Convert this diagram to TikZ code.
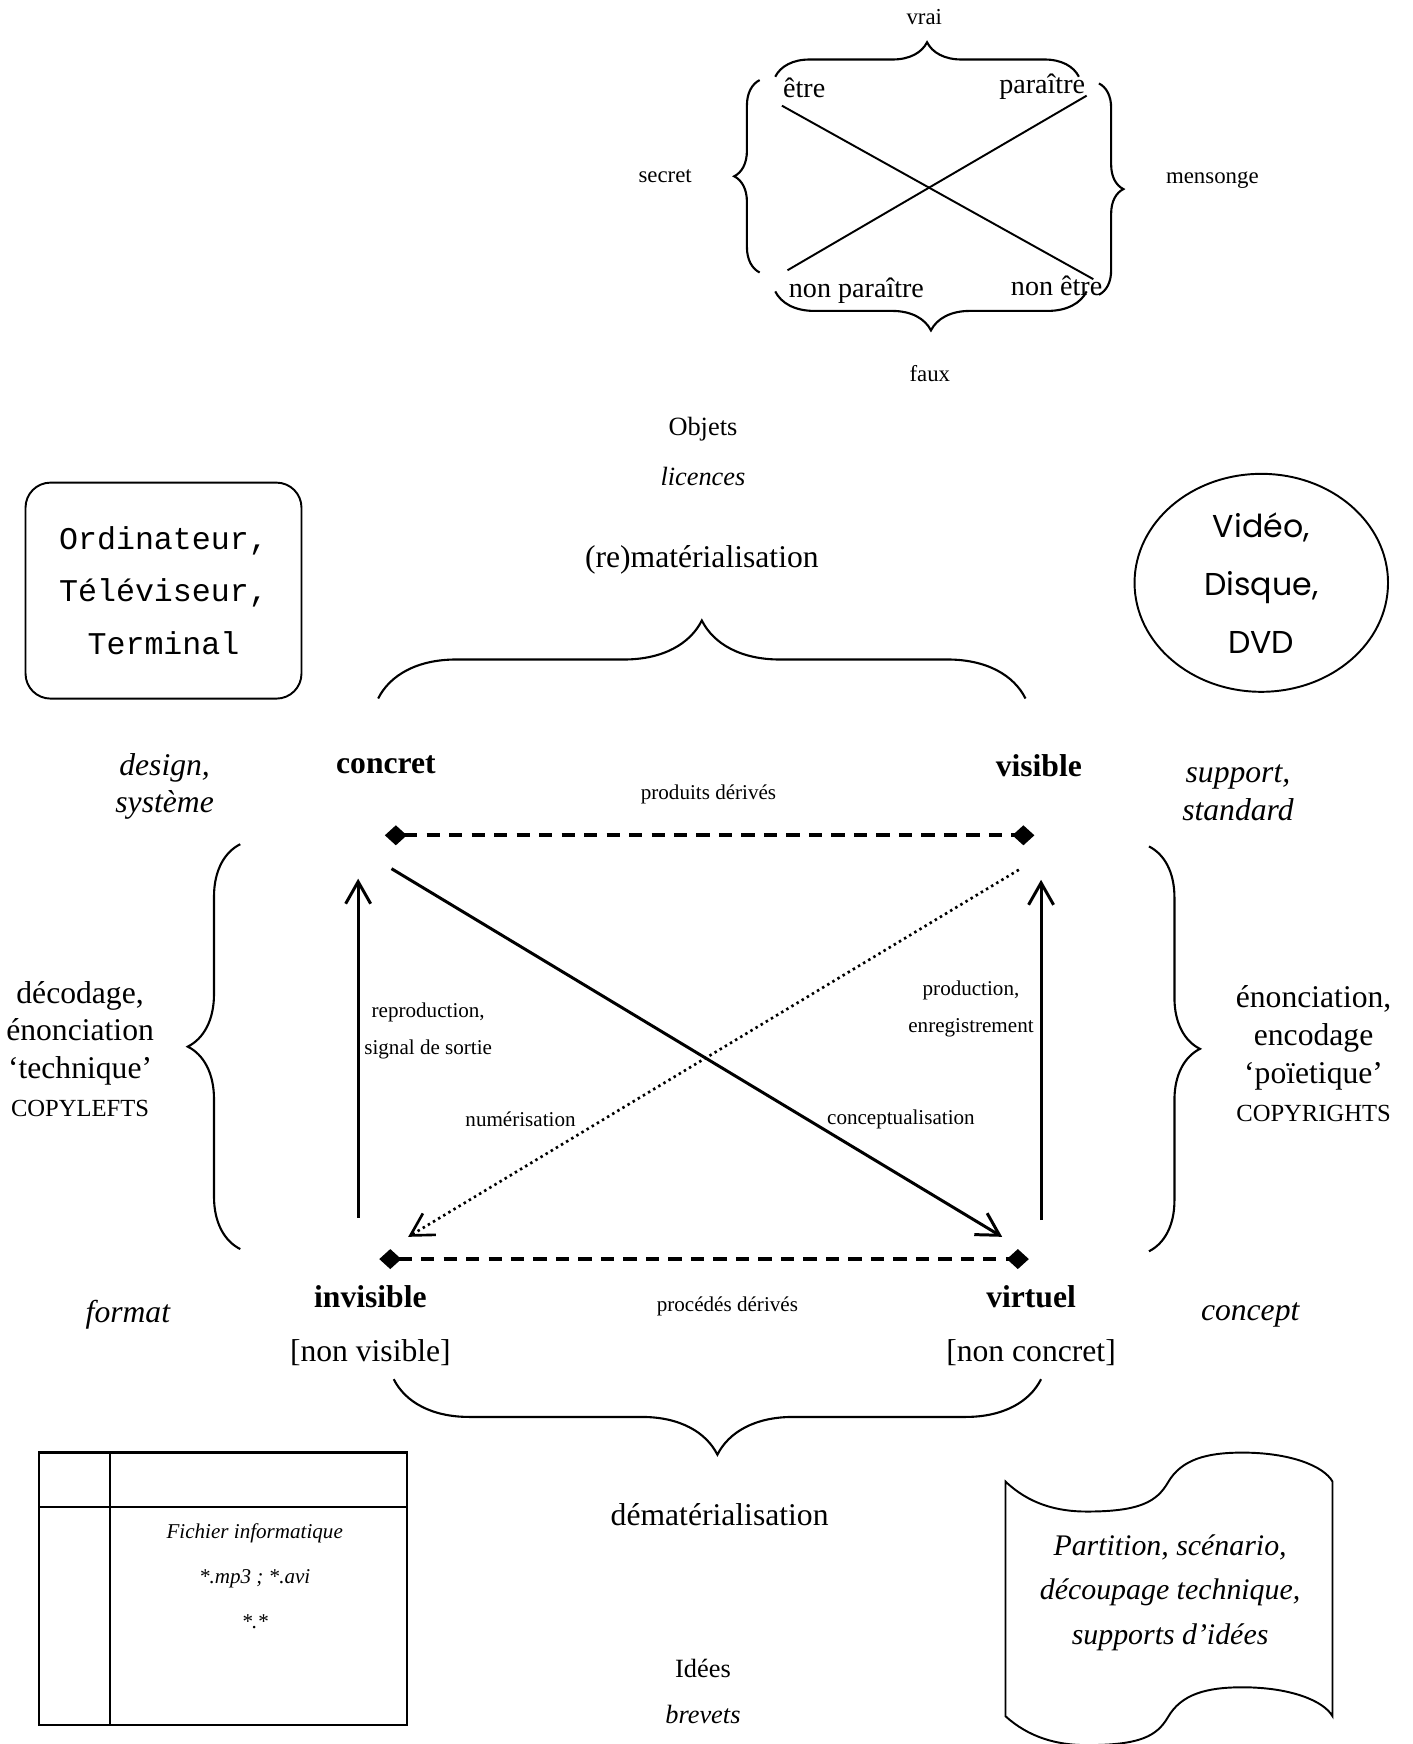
\documentclass[tikz,border=0pt]{standalone}
\usepackage{fontspec}
\setmainfont{Liberation Serif}
\setmonofont{Liberation Mono}
\newfontfamily\gothic{Poppins}
\usetikzlibrary{arrows.meta,decorations.pathreplacing,shapes.geometric}
\pgfdeclarelayer{bg}
\pgfsetlayers{bg,main}
\tikzset{
    every node/.style={inner sep=0mm, align=center},
    big/.style={font=\fontsize{18}{21.5}\selectfont},
    mid/.style={font=\fontsize{15}{18}\selectfont},
    petit/.style={font=\fontsize{12}{20.8}\selectfont},
    caps/.style={font=\fontsize{14}{16}\selectfont},
    carre/.style={font=\fontsize{16}{18}\selectfont},
    carrelbl/.style={font=\fontsize{13}{15}\selectfont},
    accolade/.style={decorate, decoration={brace, amplitude=#1}, line width=1.2pt},
    fleche/.style={line width=1.7pt, -{Straight Barb[length=0.44cm, width=0.5cm]}},
    tirets/.style={line width=2.1pt, dash pattern=on 7.5pt off 5.3pt,
        {Diamond[length=0.44cm, width=0.4cm]}-{Diamond[length=0.44cm, width=0.4cm]}},
    pointilles/.style={line width=1.5pt, dash pattern=on 1.4pt off 2pt,
        -{Straight Barb[length=0.44cm, width=0.5cm]}}
}

\begin{document}
\begin{tikzpicture}[x=0.02225cm, y=-0.02225cm]
    \useasboundingbox (0,0) rectangle (1270,1568);

    \node (vrai) at (831,15) [carrelbl] {vrai};
    \node (secret) at (598,158) [carrelbl] {secret};
    \node (mensonge) at (1090,162) [carrelbl] {mensonge};
    \node (faux) at (836,336) [carrelbl] {faux};
    \node (etre) at (723,79) [carre] {être};
    \node (paraitre) at (937,78) [carre] {paraître};
    \node (nonparaitre) at (770,261) [carre] {non paraître};
    \node (nonetre) at (950,257) [carre] {non être};
    \coordinate (e1) at (703,95);
    \coordinate (e2) at (983,251);
    \coordinate (p1) at (708,243);
    \coordinate (p2) at (977,86);

    \begin{pgfonlayer}{bg}
        \draw (e1) edge [line width=1.1pt] (e2);
        \draw (p1) edge [line width=1.1pt] (p2);
    \end{pgfonlayer}

    \draw [accolade=0.69cm] (697,69) -- (970,69);
    \draw [accolade=0.78cm] (977,262) -- (697,262);
    \draw [accolade=0.51cm] (683,245) -- (683,72);
    \draw [accolade=0.49cm] (988,75) -- (988,265);

    \node (objets) at (632,386) [mid] {Objets};
    \node (licences) at (632,428) [mid, font=\itshape\fontsize{15}{18}\selectfont] {licences};
    \node (remat) at (631,503) [big] {(re)matérialisation};

    \node (ordi) at (147,531) [draw, rounded corners=0.5cm, line width=1.1pt,
        minimum width=5.52cm, minimum height=4.32cm,
        font=\ttfamily\fontsize{18}{30}\selectfont] {Ordinateur,\\Téléviseur,\\Terminal};
    \node (video) at (1134,524) [ellipse, draw, line width=1.1pt,
        minimum width=5.07cm, minimum height=4.36cm,
        font=\gothic\fontsize{18}{33}\selectfont] {Vidéo,\\Disque,\\DVD};

    \draw [accolade=1.56cm] (340,628) -- (922,628);

    \node (concret) at (347,688) [big, font=\bfseries\fontsize{18}{21.5}\selectfont] {concret};
    \node (visible) at (934,688) [big, font=\bfseries\fontsize{18}{21.5}\selectfont] {visible};
    \node (design) at (148,707) [font=\itshape\fontsize{18}{21.5}\selectfont] {design,\\système};
    \node (support) at (1113,713) [font=\itshape\fontsize{18}{21.5}\selectfont] {support,\\standard};
    \node (produits) at (637,714) [petit] {produits dérivés};

    \coordinate (dtl) at (346,751);
    \coordinate (dtr) at (930,751);
    \coordinate (dbl) at (341,1132);
    \coordinate (dbr) at (925,1132);
    \coordinate (al0) at (322,1095);
    \coordinate (al1) at (322,790);
    \coordinate (ar0) at (936,1097);
    \coordinate (ar1) at (936,791);
    \coordinate (cs) at (352,781);
    \coordinate (ce) at (901,1112);
    \coordinate (ns) at (916,782);
    \coordinate (ne) at (367,1112);

    \begin{pgfonlayer}{bg}
        \draw (dtl) edge [tirets] (dtr);
        \draw (dbl) edge [tirets] (dbr);
        \draw (al0) edge [fleche] (al1);
        \draw (ar0) edge [fleche] (ar1);
        \draw (cs) edge [fleche] (ce);
        \draw (ns) edge [pointilles] (ne);
    \end{pgfonlayer}

    \draw [accolade=1.05cm] (216,1123) -- (216,759);
    \draw [accolade=1.02cm] (1033,761) -- (1033,1125);

    \node (decodage) at (72,929) [big] {décodage,\\énonciation\\‘technique’};
    \node (copyleft) at (72,997) [caps] {COPYLEFTS};
    \node (enonciation) at (1181,933) [big] {énonciation,\\encodage\\‘poïetique’};
    \node (copyright) at (1181,1001) [caps] {COPYRIGHTS};

    \node (repro) at (385,927) [petit] {reproduction,\\signal de sortie};
    \node (prod) at (873,907) [petit] {production,\\enregistrement};
    \node (numer) at (468,1006) [petit] {numérisation};
    \node (concept) at (810,1006) [petit] {conceptualisation};

    \node (invis) at (333,1166) [font=\bfseries\fontsize{18}{21.5}\selectfont] {invisible};
    \node (virtuel) at (927,1166) [font=\bfseries\fontsize{18}{21.5}\selectfont] {virtuel};
    \node (nonvis) at (333,1216) [big] {[non visible]};
    \node (nonconc) at (927,1216) [big] {[non concret]};
    \node (format) at (115,1182) [font=\itshape\fontsize{18}{21.5}\selectfont] {format};
    \node (conceptit) at (1124,1182) [font=\itshape\fontsize{18}{21.5}\selectfont] {concept};
    \node (procedes) at (654,1175) [petit] {procédés dérivés};

    \draw [accolade=1.51cm] (936,1240) -- (354,1240);
    \node (demat) at (647,1362) [big] {dématérialisation};
    \node (idees) at (632,1500) [mid] {Idées};
    \node (brevets) at (632,1541) [font=\itshape\fontsize{15}{18}\selectfont] {brevets};

    \draw [line width=1.3pt] (35,1306) rectangle (366,1551);
    \draw [line width=1.3pt] (99,1306) -- (99,1551);
    \draw [line width=1.3pt] (35,1355) -- (366,1355);
    \node (fichier) at (229,1417) [font=\itshape\fontsize{12}{25.5}\selectfont] {Fichier informatique\\*.mp3 ; *.avi\\*.*};

    \draw [line width=1.1pt] (904,1332) .. controls (925,1352) and (950,1359) .. (977,1359)
        .. controls (1025,1359) and (1040,1350) .. (1050,1333)
        .. controls (1062,1312) and (1085,1306) .. (1117,1306)
        .. controls (1160,1306) and (1190,1318) .. (1198,1332)
        -- (1198,1543)
        .. controls (1190,1529) and (1160,1517) .. (1117,1517)
        .. controls (1085,1517) and (1062,1523) .. (1050,1544)
        .. controls (1040,1561) and (1025,1569) .. (977,1569)
        .. controls (950,1569) and (925,1562) .. (904,1543) -- cycle;
    \node (partition) at (1052,1432) [font=\itshape\fontsize{17}{25.5}\selectfont] {Partition, scénario,\\découpage technique,\\supports d’idées};
\end{tikzpicture}
\end{document}
